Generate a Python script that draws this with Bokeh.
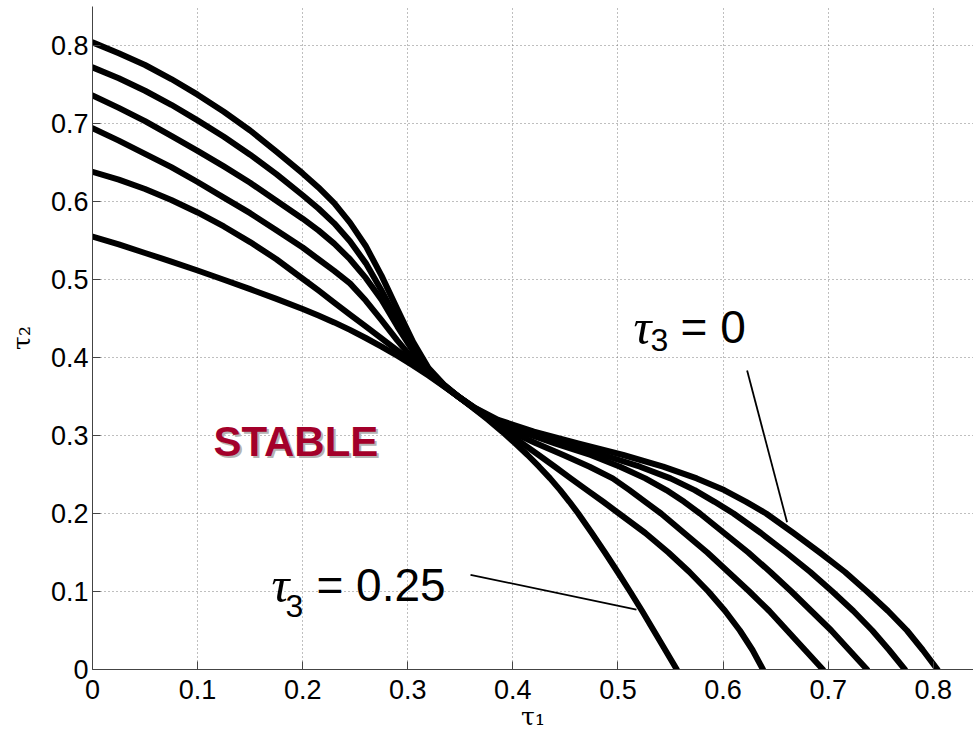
from bokeh.plotting import figure
from bokeh.models import FixedTicker, Range1d
from bokeh.core.properties import value
from bokeh.embed import file_html
from bokeh.resources import INLINE

# ---------------- data ----------------
# Six stability boundaries, tau3 = 0 (outermost) ... tau3 = 0.25 (innermost).
# Upper-left branch: y read at these tau1 values
upper_x = [0, 0.025, 0.05, 0.075, 0.1, 0.125, 0.15, 0.175, 0.2, 0.215, 0.23, 0.245,
           0.26, 0.275, 0.29, 0.305, 0.32, 0.335, 0.349]
# Lower-right branch: x read at these tau2 values
lower_y = [0.335, 0.32, 0.305, 0.29, 0.275, 0.26, 0.245, 0.23, 0.215, 0.2, 0.175,
           0.15, 0.125, 0.1, 0.075, 0.05, 0.025, 0]

c1_upper_y = [0.804, 0.790, 0.775, 0.757, 0.737, 0.715, 0.691, 0.664, 0.636, 0.618, 0.598, 0.573,
              0.543, 0.505, 0.462, 0.420, 0.386, 0.3645, 0.349]
c1_lower_x = [0.3645, 0.386, 0.420, 0.462, 0.505, 0.543, 0.575, 0.601, 0.622, 0.641, 0.667,
              0.692, 0.716, 0.737, 0.757, 0.775, 0.790, 0.804]

c2_upper_y = [0.772, 0.758, 0.742, 0.724, 0.704, 0.683, 0.660, 0.635, 0.608, 0.591, 0.572, 0.549,
              0.521, 0.486, 0.448, 0.412, 0.383, 0.364, 0.349]
c2_lower_x = [0.364, 0.383, 0.412, 0.448, 0.486, 0.521, 0.550, 0.573, 0.592, 0.610, 0.636,
              0.660, 0.683, 0.704, 0.724, 0.742, 0.758, 0.773]

c3_upper_y = [0.736, 0.720, 0.703, 0.684, 0.665, 0.645, 0.624, 0.601, 0.578, 0.563, 0.546, 0.526,
              0.502, 0.474, 0.440, 0.408, 0.382, 0.3636, 0.349]
c3_lower_x = [0.3636, 0.382, 0.408, 0.440, 0.474, 0.502, 0.526, 0.546, 0.563, 0.578, 0.601,
              0.624, 0.645, 0.665, 0.684, 0.703, 0.720, 0.737]

c4_upper_y = [0.694, 0.678, 0.661, 0.644, 0.625, 0.605, 0.585, 0.563, 0.541, 0.526, 0.511, 0.495,
              0.473, 0.448, 0.422, 0.398, 0.379, 0.3632, 0.349]
c4_lower_x = [0.3632, 0.379, 0.398, 0.422, 0.448, 0.473, 0.495, 0.511, 0.526, 0.541, 0.563,
              0.585, 0.605, 0.625, 0.644, 0.661, 0.678, 0.695]

c5_upper_y = [0.638, 0.628, 0.616, 0.602, 0.586, 0.568, 0.548, 0.526, 0.501, 0.486, 0.4705, 0.455,
              0.440, 0.4245, 0.409, 0.394, 0.3785, 0.3628, 0.349]
c5_lower_x = [0.3628, 0.3785, 0.394, 0.409, 0.4245, 0.440, 0.455, 0.4705, 0.486, 0.501, 0.526,
              0.548, 0.568, 0.586, 0.602, 0.616, 0.628, 0.638]

c6_upper_y = [0.555, 0.545, 0.534, 0.523, 0.5115, 0.4997, 0.4876, 0.4751, 0.4622, 0.4538, 0.445,
              0.4354, 0.425, 0.414, 0.4022, 0.3898, 0.3766, 0.3624, 0.349]
c6_lower_x = [0.3624, 0.3766, 0.3898, 0.4022, 0.414, 0.425, 0.4354, 0.445, 0.4538, 0.4622,
              0.4751, 0.4876, 0.4997, 0.5115, 0.523, 0.534, 0.545, 0.556]

ticks = [0, 0.1, 0.2, 0.3, 0.4, 0.5, 0.6, 0.7, 0.8]
tick_labels = ["0", "0.1", "0.2", "0.3", "0.4", "0.5", "0.6", "0.7", "0.8"]

x_label = "τ₁"
y_label = "τ₂"
region_label = "STABLE"
label_top = "= 0"
label_bottom = "= 0.25"

# pointer line ends (tau1, tau2) for the two labels
ptr_x0 = [0.6229, 0.3597]
ptr_y0 = [0.3833, 0.1214]
ptr_x1 = [0.6609, 0.5176]
ptr_y1 = [0.1888, 0.0769]

# ---------------- figure ----------------
p = figure(width=973, height=735,
           x_range=Range1d(0, 0.8383), y_range=Range1d(0, 0.85),
           output_backend="svg", toolbar_location=None,
           min_border_left=92, min_border_right=0, min_border_top=6, min_border_bottom=66)
p.outline_line_color = None
p.background_fill_color = "white"
p.border_fill_color = "white"

for ax in (p.xaxis[0], p.yaxis[0]):
    ax.ticker = FixedTicker(ticks=ticks)
    ax.major_label_overrides = dict(zip(ticks, tick_labels))
    ax.major_tick_in = 8
    ax.major_tick_out = 0
    ax.minor_tick_line_color = None
    ax.axis_line_color = "#444444"
    ax.major_tick_line_color = "#444444"
    ax.major_label_text_font = "Liberation Sans"
    ax.major_label_text_font_size = "27px"
    ax.major_label_text_color = "black"
    ax.axis_label_text_font = "DejaVu Serif"
    ax.axis_label_text_font_style = "normal"
    ax.axis_label_text_font_size = "25px"
    ax.axis_label_text_color = "black"

p.xaxis.axis_label = x_label
p.yaxis.axis_label = y_label
p.xaxis.major_label_standoff = 10
p.yaxis.major_label_standoff = 4
p.xaxis.axis_label_standoff = 0
p.yaxis.axis_label_standoff = 12

p.grid.grid_line_color = "#7f7f7f"
p.grid.grid_line_dash = "1 3"
p.grid.grid_line_width = 1

curves = [(c1_upper_y, c1_lower_x), (c2_upper_y, c2_lower_x), (c3_upper_y, c3_lower_x),
          (c4_upper_y, c4_lower_x), (c5_upper_y, c5_lower_x), (c6_upper_y, c6_lower_x)]
for uy, lx in curves:
    xs = upper_x + lx
    ys = uy + lower_y
    p.line(xs, ys, line_width=6, line_color="black", line_join="round", line_cap="round")

p.segment(x0=ptr_x0, y0=ptr_y0, x1=ptr_x1, y1=ptr_y1, line_width=1.8, line_color="black")

# tau symbols (italic serif), subscripts and "= value"
p.text(x=[0.5148, 0.1703], y=[0.4385, 0.1077], text=["τ", "τ"],
       text_font=value("Liberation Serif"), text_font_style="italic",
       text_font_size="50px", text_baseline="alphabetic", text_align="left", text_color="black")
p.text(x=[0.531, 0.1836], y=[0.423, 0.082], text=["3", "3"],
       text_font=value("Liberation Sans"), text_font_size="32px",
       text_baseline="alphabetic", text_align="left", text_color="black")
p.text(x=[0.5595, 0.2131], y=[0.4385, 0.1077], text=[label_top, label_bottom],
       text_font=value("Liberation Sans"), text_font_size="46px",
       text_baseline="alphabetic", text_align="left", text_color="black")

# STABLE with drop shadow
p.text(x=[0.1151], y=[0.2923], text=[region_label], x_offset=2, y_offset=2,
       text_font=value("Liberation Sans"), text_font_style="bold", text_font_size="42px",
       text_baseline="alphabetic", text_align="left", text_color="#b4b4b4")
p.text(x=[0.1151], y=[0.2923], text=[region_label],
       text_font=value("Liberation Sans"), text_font_style="bold", text_font_size="42px",
       text_baseline="alphabetic", text_align="left", text_color="#a3002a")

open("out.html", "w").write(file_html(p, INLINE))
